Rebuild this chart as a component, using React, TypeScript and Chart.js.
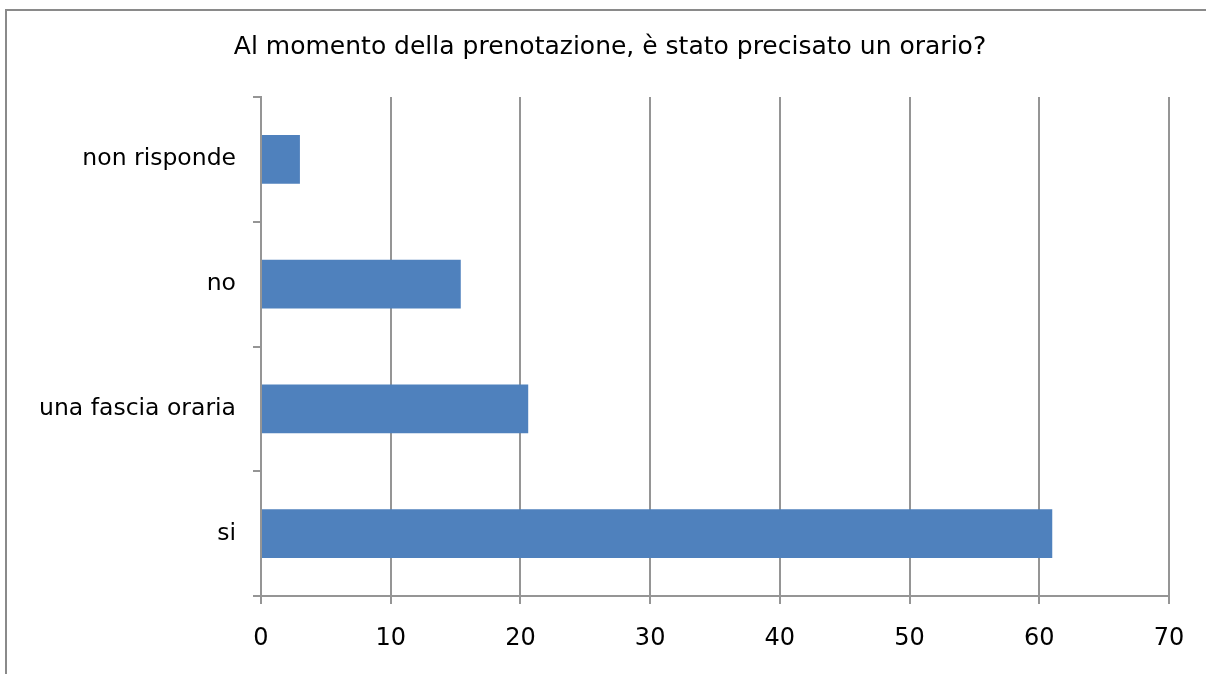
import React, { useEffect, useRef } from "react";
import { Chart, registerables } from "chart.js";

Chart.register(...registerables);

const categories = ["non risponde", "no", "una fascia oraria", "si"];
const values = [3, 15.4, 20.6, 61];
const xTicks = [0, 10, 20, 30, 40, 50, 60, 70];
const titleText = "Al momento della prenotazione, è stato precisato un orario?";

const FONT = "'DejaVu Sans', sans-serif";
const GRID = "#959595";

export default function App() {
  const ref = useRef<HTMLCanvasElement | null>(null);
  useEffect(() => {
    if (!ref.current) return;
    const chart = new Chart(ref.current, {
      type: "bar",
      data: {
        labels: categories,
        datasets: [
          {
            data: values,
            backgroundColor: "#4F81BD",
            borderWidth: 0,
            barPercentage: 0.39,
            categoryPercentage: 1,
          },
        ],
      },
      options: {
        indexAxis: "y",
        animation: false,
        responsive: false,
        maintainAspectRatio: false,
        layout: { padding: { left: 14, right: 0, top: 0, bottom: 0 } },
        plugins: {
          legend: { display: false },
          tooltip: { enabled: false },
          title: {
            display: true,
            text: titleText,
            color: "#000",
            font: { family: FONT, size: 25, weight: "normal", lineHeight: 1.2 },
            padding: { top: 32, bottom: 35 },
          },
        },
        scales: {
          x: {
            min: 0,
            max: 70,
            afterBuildTicks: (scale: any) => {
              scale.ticks = xTicks.map((v) => ({ value: v }));
            },
            afterFit: (scale: any) => {
              scale.height = 78;
            },
            grid: {
              color: GRID,
              lineWidth: 2,
              drawTicks: true,
              tickLength: 8,
            },
            border: { display: true, color: GRID, width: 2 },
            ticks: {
              color: "#000",
              font: { family: FONT, size: 24 },
              padding: 20,
            },
          },
          y: {
            afterFit: (scale: any) => {
              scale.width = 247;
            },
            grid: {
              drawOnChartArea: false,
              drawTicks: true,
              tickLength: 8,
              color: GRID,
              lineWidth: 2,
              offset: true,
            },
            border: { display: true, color: GRID, width: 2 },
            ticks: {
              color: "#000",
              font: { family: FONT, size: 23.5 },
              padding: 17,
            },
          },
          spacer: {
            type: "linear",
            position: "right",
            display: true,
            grid: { display: false },
            border: { display: false },
            ticks: { display: false },
            afterFit: (scale: any) => {
              scale.width = 37;
            },
          },
        },
      },
    });
    return () => chart.destroy();
  }, []);

  return (
    <div
      style={{
        position: "fixed",
        left: 0,
        top: 0,
        width: 1206,
        height: 674,
        overflow: "hidden",
        background: "#fff",
      }}
    >
      <div
        style={{
          position: "absolute",
          left: 5,
          top: 9,
          width: 1240,
          height: 720,
          border: "2px solid #8a8a8a",
          boxSizing: "border-box",
        }}
      />
      <canvas
        ref={ref}
        width={1206}
        height={674}
        style={{ position: "absolute", left: 0, top: 0, width: 1206, height: 674 }}
      />
    </div>
  );
}
